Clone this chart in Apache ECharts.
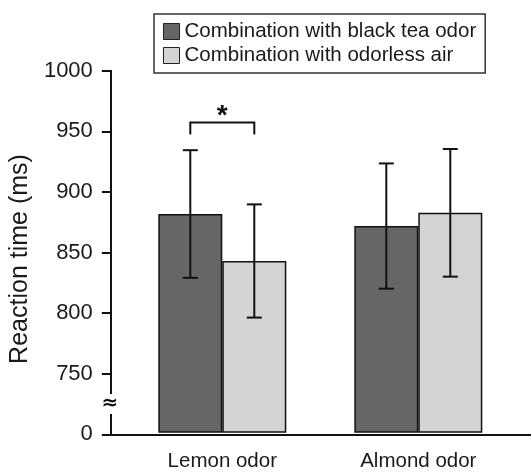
<!DOCTYPE html>
<html>
<head>
<meta charset="utf-8">
<script src="https://cdn.jsdelivr.net/npm/echarts@6/dist/echarts.min.js"></script>
<style>
html, body { margin: 0; padding: 0; background: #fff; }
#main { width: 531px; height: 472px; }
</style>
</head>
<body>
<div id="main"></div>
<script>
// data
var categories = ['Lemon odor', 'Almond odor'];
var seriesNames = ['Combination with black tea odor', 'Combination with odorless air'];
var blackTeaMean = [881, 871];
var blackTeaErr = [53, 52];
var odorlessMean = [842, 882];
var odorlessErr = [47, 53];
// broken axis: the bottom tick (700 on the scale) is labelled 0
var yTicks = [700, 750, 800, 850, 900, 950, 1000];
var yTickLabels = ['0', '750', '800', '850', '900', '950', '1000'];
// significance bracket: category, leg bottom, bracket top
var sigCategory = [0];
var sigLow = [947];
var sigHigh = [957];
var sigMark = ['*'];

var FONT = 'Liberation Sans, Arial, sans-serif';
var BAR_W = 64;

function errData(mean, err) {
    return mean.map(function (m, i) { return [i, m - err[i], m + err[i]]; });
}

function errorBars(offset) {
    return function (params, api) {
        var c = api.value(0);
        var p1 = api.coord([c, api.value(1)]);
        var p2 = api.coord([c, api.value(2)]);
        var x = p1[0] + offset;
        var style = { stroke: '#111', lineWidth: 2 };
        return {
            type: 'group',
            children: [
                { type: 'line', shape: { x1: x, y1: p1[1], x2: x, y2: p2[1] }, style: style },
                { type: 'line', shape: { x1: x - 7.5, y1: p1[1], x2: x + 7.5, y2: p1[1] }, style: style },
                { type: 'line', shape: { x1: x - 7.5, y1: p2[1], x2: x + 7.5, y2: p2[1] }, style: style }
            ]
        };
    };
}

var chart = echarts.init(document.getElementById('main'));

var option = {
    animation: false,
    textStyle: { fontFamily: FONT },
    legend: {
        data: seriesNames,
        orient: 'vertical',
        left: 154,
        top: 14,
        padding: [7, 9, 7, 9],
        itemGap: 3,
        itemWidth: 16,
        itemHeight: 16,
        icon: 'rect',
        borderColor: '#333',
        borderWidth: 1.5,
        itemStyle: { borderColor: '#222', borderWidth: 1 },
        textStyle: { fontSize: 20.5, color: '#1a1a1a', lineHeight: 20, fontFamily: FONT }
    },
    grid: [
        { left: 105, right: 0, top: 70.7, bottom: 37.7 },
        { left: 124.3, right: 14.7, top: 70.7, bottom: 37.7 }
    ],
    xAxis: [
        {
            gridIndex: 0, type: 'value', min: 0, max: 1,
            axisLine: { show: true, lineStyle: { color: '#111', width: 2 } },
            axisTick: { show: false }, axisLabel: { show: false }, splitLine: { show: false }
        },
        {
            gridIndex: 1, type: 'category', data: categories,
            axisLine: { show: false }, axisTick: { show: false },
            axisLabel: { fontSize: 20.5, color: '#1a1a1a', margin: 19, fontFamily: FONT }
        }
    ],
    yAxis: [
        {
            gridIndex: 0, type: 'value', min: 700, max: 1000, interval: 50,
            name: 'Reaction time (ms)', nameLocation: 'middle', nameGap: 69,
            nameTextStyle: { fontSize: 25, color: '#1a1a1a', fontFamily: FONT, padding: [0, 13, 0, 0] },
            axisLine: { show: true, lineStyle: { color: '#111', width: 2 } },
            axisTick: { show: true, length: 9, lineStyle: { color: '#111', width: 2 } },
            axisLabel: {
                fontSize: 22, color: '#1a1a1a', margin: 18, fontFamily: FONT,
                formatter: function (v) {
                    var i = yTicks.indexOf(v);
                    return i >= 0 ? yTickLabels[i] : '';
                }
            },
            splitLine: { show: false }
        },
        {
            gridIndex: 1, type: 'value', min: 700, max: 1000, interval: 50, show: false,
            splitLine: { show: false }
        }
    ],
    series: [
        {
            name: seriesNames[0], type: 'bar', xAxisIndex: 1, yAxisIndex: 1,
            data: blackTeaMean, barWidth: BAR_W, barGap: '0%', clip: true,
            itemStyle: { color: '#666666', borderColor: '#111', borderWidth: 1.5 }
        },
        {
            name: seriesNames[1], type: 'bar', xAxisIndex: 1, yAxisIndex: 1,
            data: odorlessMean, barWidth: BAR_W, barGap: '0%', clip: true,
            itemStyle: { color: '#d4d4d4', borderColor: '#111', borderWidth: 1.5 }
        },
        {
            type: 'custom', xAxisIndex: 1, yAxisIndex: 1, z: 5,
            data: errData(blackTeaMean, blackTeaErr),
            encode: { x: 0, y: [1, 2] },
            renderItem: errorBars(-BAR_W / 2)
        },
        {
            type: 'custom', xAxisIndex: 1, yAxisIndex: 1, z: 5,
            data: errData(odorlessMean, odorlessErr),
            encode: { x: 0, y: [1, 2] },
            renderItem: errorBars(BAR_W / 2)
        },
        {
            // significance bracket
            type: 'custom', xAxisIndex: 1, yAxisIndex: 1, z: 5,
            data: sigCategory.map(function (c, i) { return [c, sigLow[i], sigHigh[i]]; }),
            encode: { x: 0, y: [1, 2] },
            renderItem: function (params, api) {
                var c = api.value(0);
                var lo = api.coord([c, api.value(1)]);
                var hi = api.coord([c, api.value(2)]);
                var x1 = lo[0] - BAR_W / 2, x2 = lo[0] + BAR_W / 2;
                return {
                    type: 'group',
                    children: [
                        {
                            type: 'polyline',
                            shape: { points: [[x1, lo[1]], [x1, hi[1]], [x2, hi[1]], [x2, lo[1]]] },
                            style: { stroke: '#111', lineWidth: 2, fill: null }
                        },
                        {
                            type: 'text',
                            style: {
                                text: sigMark[params.dataIndex], x: lo[0], y: hi[1] + 8,
                                align: 'center', verticalAlign: 'bottom',
                                font: 'bold 28px ' + FONT, fill: '#111'
                            }
                        }
                    ]
                };
            }
        },
        {
            // axis break symbol between 0 and 750
            type: 'custom', xAxisIndex: 0, yAxisIndex: 0, z: 6,
            data: [[0, 725]],
            renderItem: function (params, api) {
                var p = api.coord([api.value(0), api.value(1)]);
                return {
                    type: 'text',
                    style: {
                        text: '\u2248', x: p[0] - 1, y: p[1],
                        align: 'center', verticalAlign: 'middle',
                        font: 'bold 20px DejaVu Sans', fill: '#111',
                        backgroundColor: '#fff'
                    }
                };
            }
        }
    ]
};

chart.setOption(option);
</script>
</body>
</html>
